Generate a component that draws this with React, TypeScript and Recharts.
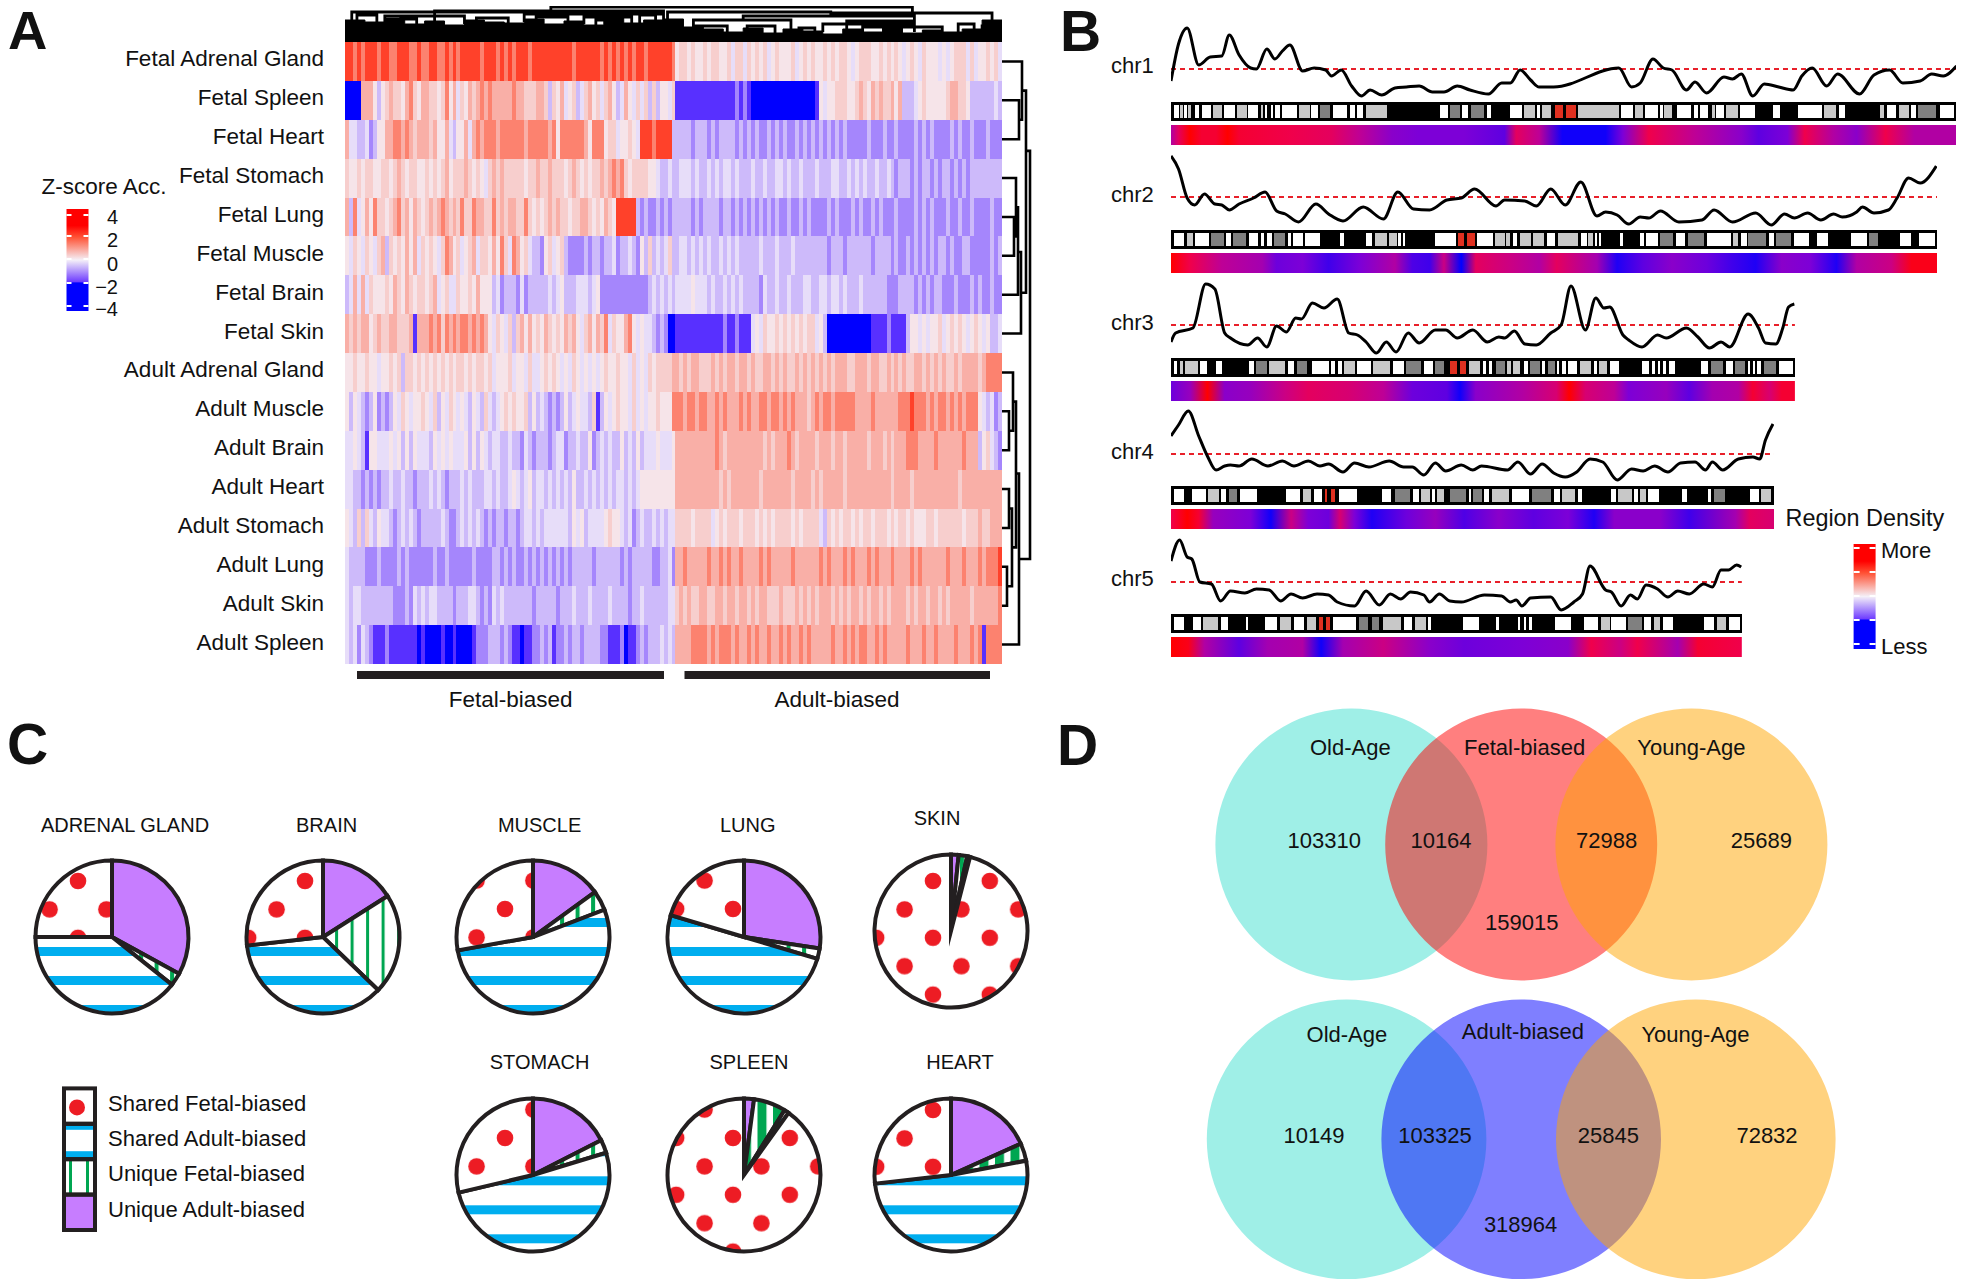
import React from "react";
import {
  Area,
  Bar,
  BarChart,
  Cell,
  ComposedChart,
  Line,
  LineChart,
  Pie,
  PieChart,
  ReferenceLine,
  XAxis,
  YAxis,
} from "recharts";

const font = '"Liberation Sans", Arial, sans-serif';
const ink = "#231f20";

// ---- panel A: heatmap, one digit per column, looked up in zLevels
const zLevels = [-2.2, -1.92, -1.12, -0.57, -0.2, 0.15, 0.43, 0.82, 1.38, 2.2];
const rowLabels = [
  "Fetal Adrenal Gland", "Fetal Spleen", "Fetal Heart", "Fetal Stomach", "Fetal Lung", "Fetal Muscle",
  "Fetal Brain", "Fetal Skin", "Adult Adrenal Gland", "Adult Muscle", "Adult Brain", "Adult Heart",
  "Adult Stomach", "Adult Lung", "Adult Skin", "Adult Spleen",
];
const heatRows = [
  "9989899989 9889998898 8998898989 9999899989 8989998999 9999999899 9999898989 8989989999 9985665655 6566556466 4656564565 5564565655 6565665456 6655656565 4565465554 5456664645 56564",
  "0000777535 6766578657 7665685746 5767878777 7787766677 6365745634 6756467534 7546463635 5461111111 1111111121 2100000000 0000000015 4556665567 6576766757 3334565555 5677665333 33343",
  "7443342355 7788787677 7675574355 7478788878 8888878888 8785888888 7588856645 5654999899 9933333233 3232333323 2323223232 3223232323 2323232222 2322232232 2223232322 2232322322 23222",
  "6556566556 6567656655 6565675666 7656546767 6666656676 6766656765 6566767878 6566665543 3433444343 3434344343 3343343344 3433433343 3344334343 4334334323 3323233232 3323232333 33333",
  "7384575866 5678675765 6767876768 6687766867 6776686565 6767665667 7656576599 9993232232 3233333232 3333233232 3232323232 2322323222 2323222323 2232322232 2223232322 2322322322 22322",
  "5465465467 3656575746 5654687564 5674665758 6487564332 5645632222 3233233423 3432536343 4633443434 3433434343 3333433343 3343333333 3233323333 3323333232 2323232323 3232233222 22323",
  "3474746555 6576576566 5674564465 5657555342 3332423333 3434533344 4345222222 2222223434 3434444544 4343343434 3333243343 3433344334 4344343334 3333332223 3332323233 2223222323 22322",
  "7676775676 6776667177 7878687878 8787875465 4636757565 7656576754 6757684655 7854544323 2001111111 1111121121 1145465565 6565656645 3000000000 0011112111 1355454556 4565654565 45334",
  "5565565545 5656366565 6565656566 5656656455 5645546445 6565454654 5454565565 5464546566 6677676776 6676767767 7676677676 7667676767 6767776677 7677667676 7667767676 7667677776 78888",
  "5354323523 2354654556 5463546545 4354364345 6565563534 3232353454 4361354565 5464545565 5588878878 8778787778 7877887887 8787776787 8878888877 7787777778 8898887878 8787878885 43423",
  "4454315544 4545353544 4354545444 5353543443 3433243233 3234423343 3523434335 3435344454 4457777777 7778767777 7777767677 7876777767 7767767777 7677767677 7888777787 7777787773 56432",
  "4433232323 3433433233 3434323334 3433344343 3454345344 3434343533 4343434344 3434555555 5557777777 7777676777 7777677777 7767777676 7777767777 7777777677 7767777777 7777677777 77777",
  "5436364354 4323434323 3333432234 3434323233 2332344343 4444443545 3444456554 3423433434 3446666566 6645656665 6665656566 6656566664 3656566565 6656665656 6565556656 6666656667 66777",
  "4333322232 2223232222 2232232222 2232222332 3232232323 2323232333 3323333332 3233333223 3427787777 7877878778 7777878777 7787777778 7877787877 7878777877 7787877777 7877787778 78889",
  "4344333333 3322232434 3443333233 3443232434 3333333233 3332333433 3433334333 3233433333 3446767667 7667767767 7676776667 6667676767 7767676776 7677676777 7676776776 7677777677 77778",
  "4342432111 2111111101 0000100100 0012223332 3211011223 2312232332 3333221112 0112323334 3437777888 8787888787 7878778778 7877878777 7787787878 8778787777 7877787787 7778777878 18888",
].map((r) => r.replace(/ /g, ""));
const columnCount = 165;

// top dendrogram: outline of the dense leaf band, then [x1, x2, top, foot1, foot2]
const leafEdge = [22, 20, 24, 18, 21, 17, 22, 20, 19, 23, 18, 21, 17, 24, 19, 22, 23, 15, 13, 10, 14, 9, 13, 11, 8, 13, 10, 14, 9, 12, 10, 13, 22, 12];
const topLinks = [
  [51.7, 142.5, 35, 30, 29], [22.5, 80, 31, 20, 24], [1.7, 51.7, 30, 20, 30], [45, 80, 28, 20, 20],
  [81, 122, 30, 20, 29], [122, 162.5, 29, 26, 12], [100, 143, 26, 21, 18], [87.5, 112, 22, 10, 12],
  [120, 143, 18, 10, 10], [126, 143, 21, 12, 12], [10, 30, 26, 18, 18], [60, 72, 25, 18, 18],
  [88, 96, 16, 8, 8], [130, 150, 15, 8, 8], [160, 164, 16, 8, 8], [3, 8, 27, 18, 18], [14, 18, 23, 17, 17],
  [33, 41, 24, 16, 18], [48, 56, 25, 17, 17], [63, 67, 22, 15, 15], [74, 78, 27, 18, 20], [101, 108, 16, 8, 8],
  [114, 118, 14, 7, 7], [154, 158, 18, 10, 10],
];
// row dendrogram: [rowA, heightA, rowB, heightB, top]
const rowLinks = [
  [1, 0, 2, 0, 17], [0, 0, 1.5, 17, 20], [4, 0, 5, 0, 12], [3, 0, 4.5, 12, 14], [3.75, 14, 6, 0, 16],
  [4.9, 16, 7, 0, 19], [0.75, 20, 5.95, 19, 24], [9, 0, 10, 0, 7], [8, 0, 9.5, 7, 11], [13, 0, 14, 0, 5],
  [11, 0, 12, 0, 7], [11.5, 7, 13.5, 5, 10], [8.75, 11, 12.5, 10, 14], [10.6, 14, 15, 0, 17], [2.3, 24, 12.8, 17, 28],
];

// ---- panel B: density curves [position, height over the mean]
const chr1Curve = [[192,-12],[205,25],[220,41],[240,4],[260,12],[280,13],[293,34],[310,14],[330,1],[340,0],[358,20],[372,10],[385,18],[398,24],[420,-2],[440,1],[460,-1],[470,-7],[487,-1],[505,-17],[522,-27],[537,-21],[557,-26],[580,-19],[600,-18],[622,-17],[645,-23],[665,-23],[688,-17],[710,-21],[742,-25],[765,-14],[780,-14],[797,-1],[815,-11],[830,-18],[855,-18],[968,1],[990,-18],[1005,-14],[1027,10],[1045,1],[1060,-1],[1085,-21],[1100,-13],[1120,-24],[1150,-8],[1165,-10],[1180,-5],[1200,-27],[1220,-15],[1245,-18],[1270,-21],[1285,-7],[1303,1],[1328,-17],[1347,-5],[1385,-25],[1410,-6],[1437,-1],[1460,-14],[1490,-12],[1510,-5],[1530,-7],[1553,3]];
const chr2Curve = [[192,41],[205,28],[220,-1],[233,-8],[250,3],[268,-7],[280,-8],[293,-13],[310,-7],[335,-1],[355,5],[375,-14],[390,-17],[413,-25],[443,-7],[465,-17],[490,-24],[525,-10],[560,-22],[585,5],[612,-12],[640,-13],[670,-3],[695,-1],[718,8],[755,-9],[770,-3],[805,-4],[825,-9],[850,8],[875,-8],[902,15],[930,-19],[945,-15],[965,-18],[985,-27],[1005,-20],[1020,-21],[1040,-14],[1072,-25],[1112,-23],[1133,-13],[1165,-25],[1205,-16],[1232,-28],[1255,-17],[1272,-21],[1295,-16],[1318,-23],[1340,-17],[1355,-20],[1380,-15],[1390,-10],[1410,-16],[1435,-13],[1450,-1],[1470,19],[1490,14],[1518,31]];
const chr3Curve = [[192,-17],[200,-8],[230,-3],[252,41],[268,36],[285,-8],[295,-13],[325,-20],[342,-13],[358,-22],[375,-1],[392,-7],[408,7],[418,6],[437,22],[457,17],[480,26],[500,-8],[515,-10],[530,-17],[548,-28],[565,-17],[582,-27],[603,-8],[622,-18],[650,-5],[668,-5],[688,-13],[715,-5],[740,-17],[760,-12],[770,-13],[787,-6],[805,-19],[825,-20],[850,-8],[868,0],[885,39],[910,-5],[928,27],[942,17],[952,18],[975,-10],[985,-15],[1008,-22],[1035,-10],[1050,-13],[1085,-3],[1105,-12],[1125,-23],[1145,-17],[1160,-22],[1192,11],[1210,-3],[1222,-18],[1240,-19],[1252,-3],[1262,18],[1272,21]];
const chr4Curve = [[192,18],[205,29],[222,43],[240,18],[255,-2],[270,-16],[285,-12],[295,-11],[310,-12],[332,-5],[360,-12],[385,-7],[405,-12],[430,-7],[450,-12],[465,-10],[490,-18],[510,-9],[535,-13],[570,-7],[595,-13],[610,-13],[630,-21],[650,-9],[668,-17],[695,-11],[715,-16],[730,-12],[775,-16],[793,-8],[815,-20],[835,-10],[855,-19],[875,-23],[895,-18],[918,-5],[940,-8],[965,-26],[990,-15],[1010,-17],[1030,-12],[1053,-18],[1075,-9],[1100,-8],[1118,-16],[1130,-8],[1148,-16],[1175,-5],[1200,-3],[1212,-5],[1222,14],[1235,30]];
const chr5Curve = [[192,21],[207,42],[220,25],[228,23],[242,0],[262,-2],[278,-19],[295,-9],[320,-11],[340,-7],[362,-8],[382,-19],[400,-12],[420,-16],[445,-12],[465,-13],[480,-20],[510,-24],[530,-9],[553,-23],[572,-12],[590,-17],[607,-10],[630,-13],[640,-20],[657,-12],[675,-19],[695,-20],[735,-13],[765,-14],[780,-20],[790,-18],[800,-24],[815,-16],[850,-15],[868,-28],[890,-20],[905,-12],[918,16],[945,-8],[955,-10],[972,-24],[988,-13],[1000,-17],[1015,-3],[1035,-7],[1053,-15],[1070,-9],[1090,-12],[1115,-2],[1130,-5],[1145,12],[1158,12],[1172,17],[1180,15]];

// ideogram bands: start, stain (w white, g grey, d dark grey, r centromere), end. Gaps are black
const chr1Bands = "197w205 208g213 215w220 222g227 233w241 245w262 265g280 283w303 307g323 326w343 348g352 355w358 365w368 373w380 385w410 413g432 435w446 450d468 472w497 502w510 515w525 530g567 658w672 676d692 697w707 712d735 739w747 780w800 803g823 827w832 835g850 858r872 877r893 898g968 972w993 996g1010 1014w1036 1040w1045 1047g1060 1068w1093 1098w1105 1108w1122 1130g1135 1137w1150 1153g1174 1178w1203 1235w1247 1279w1320 1323g1345 1349w1360 1420g1427 1432w1449 1453g1470 1475w1482 1486d1518 1524w1548";
const chr2Bands = "197w215 220g230 234w258 262d283 287w296 300d322 327w343 348w354 358w367 371d390 394w400 404w420 424w451 484w491 530w541 545g566 570g583 585w590 594w597 650w686 690r700 705r718 723w750 754g770 773g780 784w792 796g815 820g838 843w858 863g898 903w912 915g923 927w930 934w937 970w975 1005w1012 1015w1035 1040d1062 1067w1083 1088d1116 1120w1162 1166g1175 1180w1190 1192d1223 1228w1237 1241d1267 1272w1298 1312w1330 1370w1398 1402d1417 1455w1475 1488w1515";
const chr3Bands = "197w203 207g212 216g239 243w254 270w281 327w335 340d358 362g390 394w405 410d428 437w466 470w477 482w488 492g510 515w538 542g572 577w595 600d625 630w646 650d665 675r688 692r703 708g727 733w738 743w748 755d770 775g781 785g797 803w810 814d831 835w840 845d857 860w865 870w876 880w895 900g920 925w930 934g947 952w968 1008w1020 1025w1030 1035w1040 1045w1050 1055w1066 1110w1122 1127d1148 1153w1166 1170d1187 1192w1196 1200w1204 1208w1215 1220d1240 1245w1270";
const chr4Bands = "197w215 228w252 256g275 279w288 292d307 312w341 391w415 420g435 440w454 459r463 470r476 483w515 558w574 580d606 612w622 626g640 645w650 653g665 675d703 708w712 716d730 735w743 748g778 783w813 818d850 855w866 870g892 897w904 955w963 967g990 995w1002 1005g1015 1018w1038 1078w1086 1122w1127 1133d1152 1195w1210 1215g1232";
const chr5Bands = "197w215 230w244 248g274 278w290 322w325 354w375 380g400 405w423 428g443 448r455 460r467 472w512 517d533 540d553 560g590 595w610 615g633 637w642 698w726 755w760 793w797 803w807 812w818 857w885 908w932 937g952 955w980 984d1008 1012w1024 1028g1040 1044w1062 1115w1133 1138g1153 1158w1177";

// region density along each chromosome [position, 0..1]
const chr1Density = [[192,.6],[205,.8],[225,1],[245,.9],[270,.9],[290,1],[310,.9],[400,.85],[470,.8],[520,.65],[575,.45],[620,.4],[700,.4],[770,.3],[790,.8],[830,.65],[870,.05],[945,.05],[975,.4],[1020,.85],[1100,.65],[1180,.45],[1210,.3],[1260,.4],[1290,.85],[1340,.6],[1380,.45],[1430,.85],[1480,.6],[1553,.6]];
const chr2Density = [[192,1],[225,.85],[280,.65],[350,.55],[375,.35],[420,.4],[465,.2],[520,.4],[580,.6],[610,.25],[640,.2],[665,.7],[695,0],[720,.8],[780,.7],[830,.6],[860,.8],[930,.55],[965,.1],[1010,.3],[1060,.45],[1120,.35],[1165,.2],[1205,.1],[1250,.45],[1300,.4],[1345,.1],[1380,.6],[1440,.7],[1475,.95],[1520,.95]];
const chr3Density = [[192,.35],[225,.5],[255,1],[285,.45],[330,.5],[390,.7],[430,.8],[500,.75],[560,.65],[610,.35],[670,.3],[693,.05],[720,.45],[800,.6],[860,.75],[882,1],[910,.75],[960,.65],[985,.4],[1050,.5],[1090,.3],[1130,.55],[1175,.6],[1200,.9],[1230,.75],[1250,.9],[1273,.9]];
const chr4Density = [[192,.85],[220,1],[240,.9],[265,.5],[330,.4],[365,.05],[400,.7],[430,.4],[465,.35],[485,.75],[510,.4],[540,.1],[600,.35],[650,.5],[700,.25],[760,.45],[820,.3],[880,.4],[925,.1],[960,.45],[1040,.45],[1090,.2],[1170,.55],[1195,.8],[1237,.75]];
const chr5Density = [[192,1],[222,.95],[250,.6],[310,.3],[360,.55],[420,.6],[452,.05],[490,.55],[560,.7],[640,.45],[700,.35],[800,.4],[880,.45],[920,.85],[970,.7],[1000,.85],[1070,.55],[1105,.9],[1181,.85]];

// ---- panel C: share of each group, clockwise from 12 o'clock
const pieGroups = ["Unique Adult-biased", "Unique Fetal-biased", "Shared Adult-biased", "Shared Fetal-biased"];
const adrenalShares = [33, 2.7, 39.3, 25];
const brainShares = [16, 21.2, 36, 26.8];
const muscleShares = [15, 4.2, 53, 27.8];
const lungShares = [27.4, 2.2, 50, 20.4];
const skinShares = [1.6, 1.8, 0.6, 96];
const stomachShares = [17.5, 2.8, 51, 28.7];
const spleenShares = [2.1, 6.8, 1, 90.1];
const heartShares = [18.3, 3.7, 51.2, 26.8];

// ---- panel D
const vennFetal = ["103310", "10164", "159015", "72988", "25689"];
const vennAdult = ["10149", "103325", "318964", "25845", "72832"];

// ---- helpers
const zStops: [number, number[]][] = [
  [-2, [0, 0, 255]], [-1.9, [110, 60, 255]], [0, [245, 240, 248]], [1.95, [255, 85, 55]], [3, [255, 0, 0]],
];
const densityStops: [number, number[]][] = [
  [0, [0, 0, 255]], [0.4, [125, 0, 215]], [0.65, [190, 0, 150]], [0.85, [240, 0, 75]], [1, [255, 0, 0]],
];
function ramp(stops: [number, number[]][], v: number) {
  if (v <= stops[0][0]) return `rgb(${stops[0][1].join(",")})`;
  for (let i = 1; i < stops.length; i++) {
    const [v1, c1] = stops[i];
    const [v0, c0] = stops[i - 1];
    if (v <= v1) {
      const t = (v - v0) / (v1 - v0);
      return `rgb(${c0.map((c, k) => Math.round(c + (c1[k] - c) * t)).join(",")})`;
    }
  }
  return `rgb(${stops[stops.length - 1][1].join(",")})`;
}
const zToColor = (z: number) => ramp(zStops, z);
const densityColor = (t: number) => ramp(densityStops, t);

const bandColor: Record<string, string> = { w: "#ffffff", g: "#c8c8c8", d: "#808080", r: "#e03020", k: "#000000" };

function stackBands(spec: string, end: number) {
  const out: { size: number; type: string }[] = [];
  let at = 192;
  for (const m of spec.matchAll(/(\d+)([wgdr])(\d+)/g)) {
    const s = +m[1];
    const e = +m[3];
    if (s > at) out.push({ size: s - at, type: "k" });
    out.push({ size: e - s, type: m[2] });
    at = e;
  }
  if (at < end) out.push({ size: end - at, type: "k" });
  return out;
}

const heatData = rowLabels.map((tissue) => {
  const row: Record<string, string | number> = { tissue };
  for (let c = 0; c < columnCount; c++) row[`c${c}`] = 1;
  return row;
});
const leafData = leafEdge.map((h, i) => ({ x: i * 5, h }));
const topLinkData = topLinks.flatMap(([a, b, top, f1, f2]) => [
  { x: a, h: f1 }, { x: a, h: top }, { x: b, h: top }, { x: b, h: f2 }, { x: b, h: null },
]);
const rowLinkData = rowLinks.flatMap(([ya, xa, yb, xb, top]) => [
  { x: xa, y: ya }, { x: top, y: ya }, { x: top, y: yb }, { x: xb, y: yb }, { x: top, y: null },
]);

const ZX = 1.7326;
const CHR_LEFT = 1170.8;
const chromosomes = [
  { id: "chr1", curve: chr1Curve, bands: chr1Bands, density: chr1Density, end: 1553, mean: 69, ideo: 102, strip: 125, labelY: 65 },
  { id: "chr2", curve: chr2Curve, bands: chr2Bands, density: chr2Density, end: 1520, mean: 197, ideo: 230, strip: 253, labelY: 194 },
  { id: "chr3", curve: chr3Curve, bands: chr3Bands, density: chr3Density, end: 1273, mean: 325, ideo: 358, strip: 381, labelY: 322 },
  { id: "chr4", curve: chr4Curve, bands: chr4Bands, density: chr4Density, end: 1237, mean: 454, ideo: 486, strip: 509, labelY: 451 },
  { id: "chr5", curve: chr5Curve, bands: chr5Bands, density: chr5Density, end: 1181, mean: 582, ideo: 614, strip: 637, labelY: 578 },
];

const pies = [
  { title: "ADRENAL GLAND", shares: adrenalShares, cx: 111.6, cy: 937, tx: 125, ty: 825, dot: [-34, -56], stripe: 14.5, green: 13.6, greenW: 4 },
  { title: "BRAIN", shares: brainShares, cx: 322.5, cy: 937, tx: 326.6, ty: 825, dot: [-18, -56], stripe: 14.5, green: 13.6, greenW: 3 },
  { title: "MUSCLE", shares: muscleShares, cx: 532.8, cy: 937, tx: 539.6, ty: 825, dot: [-28, -28], stripe: 14.5, green: 13.6, greenW: 4 },
  { title: "LUNG", shares: lungShares, cx: 743.7, cy: 937, tx: 747.8, ty: 825, dot: [-11, -28], stripe: 14.5, green: 13.6, greenW: 4 },
  { title: "SKIN", shares: skinShares, cx: 950.7, cy: 930.8, tx: 937, ty: 818.4, dot: [-18, -50], stripe: 14.5, green: 11, greenW: 4 },
  { title: "STOMACH", shares: stomachShares, cx: 532.8, cy: 1174.5, tx: 539.6, ty: 1062, dot: [-28, -37], stripe: 5.8, green: 13.6, greenW: 4 },
  { title: "SPLEEN", shares: spleenShares, cx: 743.7, cy: 1174.5, tx: 749, ty: 1062, dot: [-11, -37], stripe: 5.8, green: 18, greenW: 9 },
  { title: "HEART", shares: heartShares, cx: 950.7, cy: 1174.5, tx: 960, ty: 1062, dot: [-18, -65], stripe: 5.8, green: 17.5, greenW: 9 },
];
const PIE_BOX = 170;

function Label({ x, y, size = 22, anchor = "middle", weight, children }: any) {
  return (
    <text x={x} y={y} fontSize={size} fontWeight={weight} textAnchor={anchor} dominantBaseline="central" fill="#111" fontFamily={font}>
      {children}
    </text>
  );
}

function RowTick({ x, y, payload }: any) {
  return (
    <text x={x} y={y - 2.5} fontSize={22.5} textAnchor="end" dominantBaseline="central" fill="#111" fontFamily={font}>
      {payload.value}
    </text>
  );
}

function Defs() {
  const legendStops = [5, 3, 2, 1, 0, -1, -1.9, -2, -5];
  return (
    <svg width={0} height={0} style={{ position: "absolute" }}>
      <defs>
        {pies.map((p, i) => (
          <React.Fragment key={p.title}>
            <pattern id={`dots${i}`} patternUnits="userSpaceOnUse" width={56.8} height={56.8} patternTransform={`translate(${PIE_BOX / 2 + p.dot[0]} ${PIE_BOX / 2 + p.dot[1]})`}>
              <rect width={56.8} height={56.8} fill="#fff" />
              <circle cx={0} cy={0} r={8.3} fill="#ed1c24" />
              <circle cx={56.8} cy={0} r={8.3} fill="#ed1c24" />
              <circle cx={0} cy={56.8} r={8.3} fill="#ed1c24" />
              <circle cx={56.8} cy={56.8} r={8.3} fill="#ed1c24" />
              <circle cx={28.4} cy={28.4} r={8.3} fill="#ed1c24" />
            </pattern>
            <pattern id={`blue${i}`} patternUnits="userSpaceOnUse" width={29} height={29} patternTransform={`translate(0 ${PIE_BOX / 2 + p.stripe - 4.5})`}>
              <rect width={29} height={29} fill="#fff" />
              <rect width={29} height={9} fill="#00aeef" />
            </pattern>
            <pattern id={`green${i}`} patternUnits="userSpaceOnUse" width={15.5} height={15.5} patternTransform={`translate(${PIE_BOX / 2 + p.green - p.greenW / 2} 0)`}>
              <rect width={15.5} height={15.5} fill="#fff" />
              <rect width={p.greenW} height={15.5} fill="#00a651" />
            </pattern>
          </React.Fragment>
        ))}
        {chromosomes.map((c) => (
          <linearGradient key={c.id} id={`${c.id}Grad`} x1="0" x2="1" y1="0" y2="0">
            {c.density.map(([pos, t]) => (
              <stop key={pos} offset={(pos - 192) / (c.end - 192)} stopColor={densityColor(t)} />
            ))}
          </linearGradient>
        ))}
        <linearGradient id="legendGrad" x1="0" x2="0" y1="0" y2="1">
          {legendStops.map((z) => (
            <stop key={z} offset={Math.min(1, Math.max(0, (4.45 - z) / 8.9))} stopColor={zToColor(z)} />
          ))}
        </linearGradient>
      </defs>
    </svg>
  );
}

function Heatmap() {
  return (
    <div style={{ position: "absolute", left: 0, top: 42, shapeRendering: "crispEdges" }}>
      <BarChart width={1002} height={622} data={heatData} layout="vertical" barCategoryGap={0} barGap={0} margin={{ top: 0, right: 0, bottom: 0, left: 0 }}>
        <XAxis type="number" domain={[0, columnCount]} hide />
        <YAxis
          type="category"
          dataKey="tissue"
          width={345}
          interval={0}
          axisLine={false}
          tickLine={false}
          tickSize={0}
          tickMargin={21}
          tick={<RowTick />}
        />
        {Array.from({ length: columnCount }, (_, c) => (
          <Bar key={c} dataKey={`c${c}`} stackId="heat" isAnimationActive={false} stroke="none">
            {heatRows.map((row, r) => (
              <Cell key={r} fill={zToColor(zLevels[+row[c]])} />
            ))}
          </Bar>
        ))}
      </BarChart>
    </div>
  );
}

function Dendrograms() {
  return (
    <>
      <div style={{ position: "absolute", left: 345, top: 6 }}>
        <ComposedChart width={657} height={36} margin={{ top: 0, right: 0, bottom: 0, left: 0 }}>
          <XAxis type="number" dataKey="x" domain={[0, columnCount]} hide />
          <YAxis type="number" domain={[0, 36]} hide />
          <Area data={leafData} dataKey="h" type="stepAfter" stroke="#000" fill="#000" fillOpacity={1} isAnimationActive={false} dot={false} />
          <Line data={topLinkData} dataKey="h" stroke="#000" strokeWidth={2.8} dot={false} isAnimationActive={false} />
        </ComposedChart>
      </div>
      <div style={{ position: "absolute", left: 1001.5, top: 42 }}>
        <LineChart width={32} height={622} data={rowLinkData} margin={{ top: 0, right: 0, bottom: 0, left: 0 }}>
          <XAxis type="number" dataKey="x" domain={[0, 32]} hide />
          <YAxis type="number" domain={[-0.5, 15.5]} reversed hide />
          <Line dataKey="y" stroke="#000" strokeWidth={2.6} dot={false} isAnimationActive={false} />
        </LineChart>
      </div>
    </>
  );
}

function Chromosome({ c }: any) {
  const width = (c.end - 192) / ZX;
  const curve = c.curve.map(([pos, d]: number[]) => ({ pos, d }));
  const bands = stackBands(c.bands, c.end);
  const row: Record<string, number> = {};
  bands.forEach((b, i) => (row[`b${i}`] = b.size));
  return (
    <>
      <div style={{ position: "absolute", left: CHR_LEFT, top: c.mean - 45 }}>
        <LineChart width={width} height={80} data={curve} margin={{ top: 0, right: 0, bottom: 0, left: 0 }}>
          <XAxis type="number" dataKey="pos" domain={[192, c.end]} hide />
          <YAxis type="number" domain={[-35, 45]} hide />
          <ReferenceLine y={0} stroke="#e8202a" strokeWidth={2} strokeDasharray="5 4" />
          <Line dataKey="d" type="monotone" stroke="#000" strokeWidth={3} dot={false} isAnimationActive={false} />
        </LineChart>
      </div>
      <div style={{ position: "absolute", left: CHR_LEFT, top: c.ideo, height: 19, width, background: "#000", shapeRendering: "crispEdges" }}>
        <div style={{ position: "absolute", top: 3 }}>
          <BarChart width={width} height={13} data={[row]} layout="vertical" barCategoryGap={0} margin={{ top: 0, right: 0, bottom: 0, left: 0 }}>
            <XAxis type="number" domain={[0, c.end - 192]} hide />
            <YAxis type="category" hide />
            {bands.map((b, i) => (
              <Bar key={i} dataKey={`b${i}`} stackId="bands" fill={bandColor[b.type]} isAnimationActive={false} />
            ))}
          </BarChart>
        </div>
      </div>
      <div style={{ position: "absolute", left: CHR_LEFT, top: c.strip }}>
        <BarChart width={width} height={19.5} data={[{ length: c.end - 192 }]} layout="vertical" barCategoryGap={0} margin={{ top: 0, right: 0, bottom: 0, left: 0 }}>
          <XAxis type="number" domain={[0, c.end - 192]} hide />
          <YAxis type="category" hide />
          <Bar dataKey="length" fill={`url(#${c.id}Grad)`} isAnimationActive={false} />
        </BarChart>
      </div>
    </>
  );
}

function GroupPie({ p, index }: any) {
  const data = pieGroups.map((name, i) => ({ name, value: p.shares[i] }));
  const fills = ["#c77dff", `url(#green${index})`, `url(#blue${index})`, `url(#dots${index})`];
  return (
    <div style={{ position: "absolute", left: p.cx - PIE_BOX / 2, top: p.cy - PIE_BOX / 2, strokeMiterlimit: 8 }}>
      <PieChart width={PIE_BOX} height={PIE_BOX} margin={{ top: 0, right: 0, bottom: 0, left: 0 }}>
        <Pie
          data={data}
          dataKey="value"
          nameKey="name"
          cx={PIE_BOX / 2}
          cy={PIE_BOX / 2}
          innerRadius={0}
          outerRadius={76.5}
          startAngle={90}
          endAngle={-270}
          stroke={ink}
          strokeWidth={4}
          isAnimationActive={false}
        >
          {data.map((d, i) => (
            <Cell key={d.name} fill={fills[i]} stroke={ink} strokeWidth={4} />
          ))}
        </Pie>
      </PieChart>
    </div>
  );
}

function Venn({ top, height, cy, r, cxs, sets }: any) {
  return (
    <div style={{ position: "absolute", left: 1200, top }}>
      <PieChart width={660} height={height} margin={{ top: 0, right: 0, bottom: 0, left: 0 }}>
        {sets.map((s: any, i: number) => (
          <Pie
            key={s.name}
            data={[s]}
            dataKey="value"
            nameKey="name"
            cx={cxs[i]}
            cy={cy}
            outerRadius={r}
            startAngle={90}
            endAngle={-270}
            stroke="none"
            fill={s.color}
            fillOpacity={0.5}
            isAnimationActive={false}
          />
        ))}
      </PieChart>
    </div>
  );
}

function Overlay() {
  const swatchTop = 1088.4;
  const swatchH = 35.4;
  return (
    <svg width={1965} height={1287} style={{ position: "absolute", left: 0, top: 0, pointerEvents: "none" }}>
      <Label x={8} y={30.5} size={54.5} anchor="start" weight="bold">A</Label>
      <Label x={1060} y={31} size={57} anchor="start" weight="bold">B</Label>
      <Label x={7} y={744} size={57} anchor="start" weight="bold">C</Label>
      <Label x={1057} y={745} size={57} anchor="start" weight="bold">D</Label>

      <Label x={104} y={186} size={22.5}>Z-score Acc.</Label>
      <rect x={66.5} y={209} width={22} height={102} fill="url(#legendGrad)" />
      {[215, 236, 259, 283, 306].map((y) => (
        <g key={y} fill="#fff">
          <rect x={66.5} y={y - 1} width={5} height={2} />
          <rect x={83.5} y={y - 1} width={5} height={2} />
        </g>
      ))}
      {[["4", 217], ["2", 240], ["0", 264], ["−2", 287], ["−4", 309]].map(([t, y]) => (
        <Label key={t} x={118} y={y} size={20} anchor="end">{t}</Label>
      ))}

      <rect x={357} y={671} width={307} height={8} fill={ink} />
      <rect x={684.5} y={671} width={305.5} height={8} fill={ink} />
      <Label x={510.7} y={699} size={22.5}>Fetal-biased</Label>
      <Label x={837} y={699} size={22.5}>Adult-biased</Label>

      {chromosomes.map((c) => (
        <Label key={c.id} x={1111} y={c.labelY} anchor="start">{c.id}</Label>
      ))}
      <Label x={1785.5} y={518} size={23.4} anchor="start">Region Density</Label>
      <rect x={1853.6} y={544} width={22} height={105} fill="url(#legendGrad)" />
      {[548, 572, 596, 620, 644].map((y) => (
        <g key={y} fill="#fff">
          <rect x={1853.6} y={y - 1} width={6} height={2} />
          <rect x={1869.6} y={y - 1} width={6} height={2} />
        </g>
      ))}
      <Label x={1881} y={550} anchor="start">More</Label>
      <Label x={1881} y={646} anchor="start">Less</Label>

      {pies.map((p) => (
        <Label key={p.title} x={p.tx} y={p.ty} size={20}>{p.title}</Label>
      ))}

      <rect x={64} y={swatchTop} width={31} height={swatchH * 4} fill="#fff" />
      <circle cx={77} cy={swatchTop + 19} r={8} fill="#ed1c24" />
      <rect x={64} y={swatchTop + swatchH} width={31} height={6} fill="#00aeef" />
      <rect x={64} y={swatchTop + swatchH * 2 - 8} width={31} height={8} fill="#00aeef" />
      <rect x={69} y={swatchTop + swatchH * 2} width={3} height={swatchH} fill="#00a651" />
      <rect x={86} y={swatchTop + swatchH * 2} width={3} height={swatchH} fill="#00a651" />
      <rect x={64} y={swatchTop + swatchH * 3} width={31} height={swatchH} fill="#c77dff" />
      {[0, 1, 2, 3].map((i) => (
        <rect key={i} x={64} y={swatchTop + swatchH * i} width={31} height={swatchH} fill="none" stroke={ink} strokeWidth={4} />
      ))}
      {pieGroups.slice().reverse().map((g, i) => (
        <Label key={g} x={108} y={1103.4 + i * 35.2} anchor="start">{g}</Label>
      ))}

      <Label x={1350.3} y={747.5}>Old-Age</Label>
      <Label x={1524.6} y={747.5}>Fetal-biased</Label>
      <Label x={1691.4} y={747.5}>Young-Age</Label>
      <Label x={1324.3} y={840.4}>{vennFetal[0]}</Label>
      <Label x={1441} y={840.4}>{vennFetal[1]}</Label>
      <Label x={1521.7} y={922.8}>{vennFetal[2]}</Label>
      <Label x={1606.6} y={840.4}>{vennFetal[3]}</Label>
      <Label x={1761.3} y={840.4}>{vennFetal[4]}</Label>

      <Label x={1346.9} y={1034}>Old-Age</Label>
      <Label x={1522.9} y={1031.7}>Adult-biased</Label>
      <Label x={1695.5} y={1034}>Young-Age</Label>
      <Label x={1314} y={1135}>{vennAdult[0]}</Label>
      <Label x={1435} y={1135}>{vennAdult[1]}</Label>
      <Label x={1520.6} y={1224}>{vennAdult[2]}</Label>
      <Label x={1608.3} y={1135}>{vennAdult[3]}</Label>
      <Label x={1767} y={1135}>{vennAdult[4]}</Label>
    </svg>
  );
}

export default function App() {
  const fetalSets = [
    { name: "Old-Age", value: 113474, color: "#40e0d0" },
    { name: "Fetal-biased", value: 242167, color: "#ff0000" },
    { name: "Young-Age", value: 98677, color: "#ffa500" },
  ];
  const adultSets = [
    { name: "Old-Age", value: 113474, color: "#40e0d0" },
    { name: "Adult-biased", value: 448134, color: "#0000ff" },
    { name: "Young-Age", value: 98677, color: "#ffa500" },
  ];
  return (
    <div style={{ position: "absolute", left: 0, top: 0, width: 1965, height: 1287, background: "#fff", overflow: "hidden" }}>
      <Defs />
      <Heatmap />
      <Dendrograms />
      {chromosomes.map((c) => (
        <Chromosome key={c.id} c={c} />
      ))}
      {pies.map((p, i) => (
        <GroupPie key={p.title} p={p} index={i} />
      ))}
      <Venn top={700} height={290} cy={144.5} r={136} cxs={[151.4, 321.2, 491.4]} sets={fetalSets} />
      <Venn top={995} height={295} cy={144.3} r={139.8} cxs={[146.6, 321.2, 495.8]} sets={adultSets} />
      <Overlay />
    </div>
  );
}
